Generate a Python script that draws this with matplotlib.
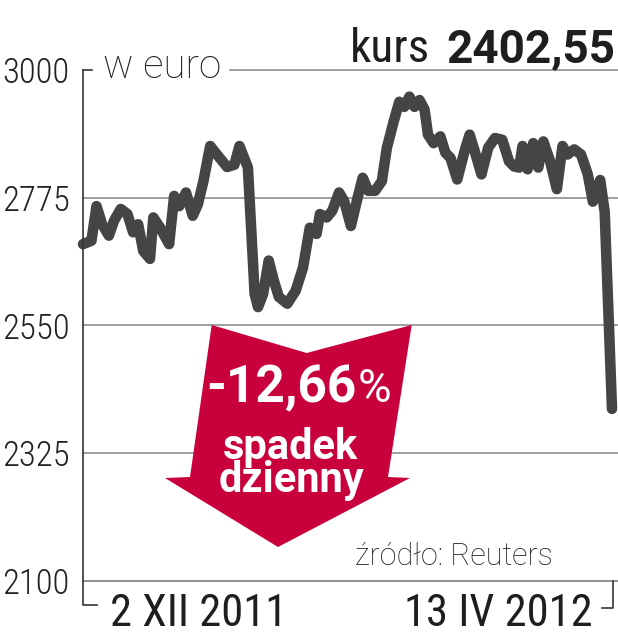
import matplotlib
matplotlib.use("Agg")
import matplotlib.pyplot as plt
from matplotlib import font_manager as fm
from matplotlib.lines import Line2D
from matplotlib.patches import Polygon

# ---------------- data ----------------
days = [0.0, 1.5, 2.4, 3.4, 4.6, 5.5, 6.7, 7.9, 8.9, 9.8,
        10.7, 11.9, 12.5, 13.7, 15.3, 16.2, 17.1, 18.3, 19.5, 20.4,
        21.4, 22.6, 23.8, 25.6, 26.9, 27.8, 29.3, 29.9, 30.5, 31.1,
        32.0, 33.0, 33.9, 34.8, 36.3, 37.8, 39.1, 40.3, 41.5, 42.1,
        43.3, 44.3, 45.5, 46.4, 47.6, 48.8, 49.7, 50.7, 51.9, 53.1,
        54.0, 55.2, 56.2, 57.1, 58.0, 58.9, 59.8, 60.7, 61.3, 62.3,
        63.5, 64.4, 65.3, 66.5, 67.8, 68.7, 69.6, 70.8, 72.0, 73.2,
        74.5, 75.7, 76.6, 77.5, 78.1, 79.0, 80.0, 80.9, 81.8, 83.0,
        84.2, 85.2, 86.1, 87.3, 88.5, 89.7, 90.6, 91.9, 92.7, 94.0]
kurs = [2693, 2699, 2760, 2728, 2708, 2734, 2755, 2746, 2714, 2728,
        2681, 2667, 2740, 2722, 2693, 2778, 2760, 2784, 2743, 2763,
        2804, 2866, 2851, 2829, 2833, 2866, 2828, 2717, 2605, 2582,
        2605, 2664, 2629, 2600, 2588, 2611, 2652, 2722, 2711, 2746,
        2740, 2752, 2784, 2769, 2725, 2775, 2810, 2787, 2787, 2804,
        2863, 2909, 2944, 2935, 2953, 2935, 2947, 2930, 2886, 2871,
        2883, 2854, 2845, 2807, 2857, 2886, 2857, 2816, 2863, 2880,
        2877, 2839, 2830, 2828, 2866, 2825, 2871, 2828, 2874, 2839,
        2790, 2866, 2851, 2860, 2851, 2816, 2768, 2806, 2750, 2402.55]
y_ticks = [2100, 2325, 2550, 2775, 3000]
y_labels = ["2100", "2325", "2550", "2775", "3000"]
date_start = "2 XII 2011"
date_end = "13 IV 2012"
last_value = "2402,55"
change_num = "-12,66"
change_pct = "%"
change_words = "spadek\ndzienny"

# ---------------- fonts ----------------
names = {f.name for f in fm.fontManager.ttflist}
def pick(*cands):
    for c in cands:
        if c in names:
            return c
    return "DejaVu Sans"
COND = pick("Roboto Condensed", "Liberation Sans Narrow", "DejaVu Sans")
SANS = pick("Roboto", "Lato", "Open Sans", "DejaVu Sans")

W, H = 618, 640
fig = plt.figure(figsize=(W / 100, H / 100), dpi=100)
fig.patch.set_facecolor("white")

def fx(x):
    return x / W
def fy(y):
    return 1 - y / H

AX_L, AX_R, AX_T, AX_B = 83, 612, 70, 580.5
ax = fig.add_axes([fx(AX_L), fy(AX_B), (AX_R - AX_L) / W, (AX_B - AX_T) / H])
ax.set_xlim(0, 94)
ax.set_ylim(2100, 3000)
for s in ax.spines.values():
    s.set_visible(False)
ax.set_xticks([])
ax.set_yticks(y_ticks)
ax.set_yticklabels(y_labels, fontfamily=COND, fontsize=25, color="#222222",
                   ha="left", fontweight="light")
ax.tick_params(axis="y", length=0, pad=(AX_L - 2) * 0.72)
ax.patch.set_alpha(0)

GRID = "#8f8f8f"
AXC = "#333333"
xr = (W - AX_L) / (AX_R - AX_L)
for v in y_ticks[:-1]:
    ax.axhline(v, xmin=0, xmax=xr, color=GRID, lw=1.2, clip_on=False, zorder=1)
# top line: after "w euro" plus small hook
ax.axhline(y_ticks[-1], xmin=(230 - AX_L) / (AX_R - AX_L), xmax=xr, color=GRID,
           lw=1.2, clip_on=False, zorder=1)
ax.axhline(y_ticks[-1], xmin=0, xmax=(92 - AX_L) / (AX_R - AX_L), color=AXC,
           lw=1.2, clip_on=False, zorder=1)
ax.axhline(y_ticks[0], xmin=0, xmax=xr, color=GRID, lw=1.2, clip_on=False, zorder=1)

# left vertical axis and brackets
fig.add_artist(Line2D([fx(AX_L), fx(AX_L), fx(97)], [fy(AX_T), fy(605), fy(605)],
                      color=AXC, lw=1.2))
fig.add_artist(Line2D([fx(602), fx(613), fx(613)], [fy(608), fy(608), fy(AX_B)],
                      color=AXC, lw=1.2))

# price line
ax.plot(days, kurs, color="#454547", lw=7.6, solid_joinstyle="round",
        solid_capstyle="round", zorder=5, clip_on=False)

# red arrow
RED = "#c8003c"
arrow = [(211.7, 325), (306.7, 353), (411.7, 325), (388, 477), (410, 478),
         (278, 547), (165, 478), (190, 477)]
fig.add_artist(Polygon([(fx(x), fy(y)) for x, y in arrow], closed=True,
                       facecolor=RED, edgecolor="none", zorder=3))

t_num = fig.text(0, fy(402), change_num, ha="left", va="baseline",
                 fontfamily=SANS, fontweight="bold", fontsize=37, color="white", zorder=6)
t_pct = fig.text(0, fy(402), change_pct, ha="left", va="baseline",
                 fontfamily=SANS, fontweight="normal", fontsize=33, color="white", zorder=6)
renderer = fig.canvas.get_renderer()
w_num = t_num.get_window_extent(renderer).width
w_pct = t_pct.get_window_extent(renderer).width
x0 = 299 - (w_num + w_pct + 1) / 2
t_num.set_x(fx(x0))
t_pct.set_x(fx(x0 + w_num + 1))

fig.text(fx(291), fy(492), change_words, ha="center", va="baseline",
         multialignment="center", linespacing=0.76,
         fontfamily=SANS, fontweight="bold", fontsize=30, color="white", zorder=6)

# header texts
TXT = "#1e1e1e"
fig.text(fx(103), fy(78), "w euro", ha="left", va="baseline", fontfamily=SANS,
         fontweight="light", fontsize=29, color=TXT)
fig.text(fx(350), fy(62), "kurs", ha="left", va="baseline", fontfamily=COND,
         fontsize=34, color=TXT)
fig.text(fx(615), fy(62), last_value, ha="right", va="baseline", fontfamily=SANS,
         fontweight="bold", fontsize=33, color=TXT)

fig.text(fx(355), fy(565), "źródło: Reuters", ha="left", va="baseline",
         fontfamily=SANS, fontweight="light", fontsize=22, color=TXT)

fig.text(fx(110), fy(626), date_start, ha="left", va="baseline", fontfamily=COND,
         fontsize=32, color=TXT)
fig.text(fx(593), fy(626), date_end, ha="right", va="baseline", fontfamily=COND,
         fontsize=32, color=TXT)

fig.savefig("out.png", dpi=100, facecolor="white")
